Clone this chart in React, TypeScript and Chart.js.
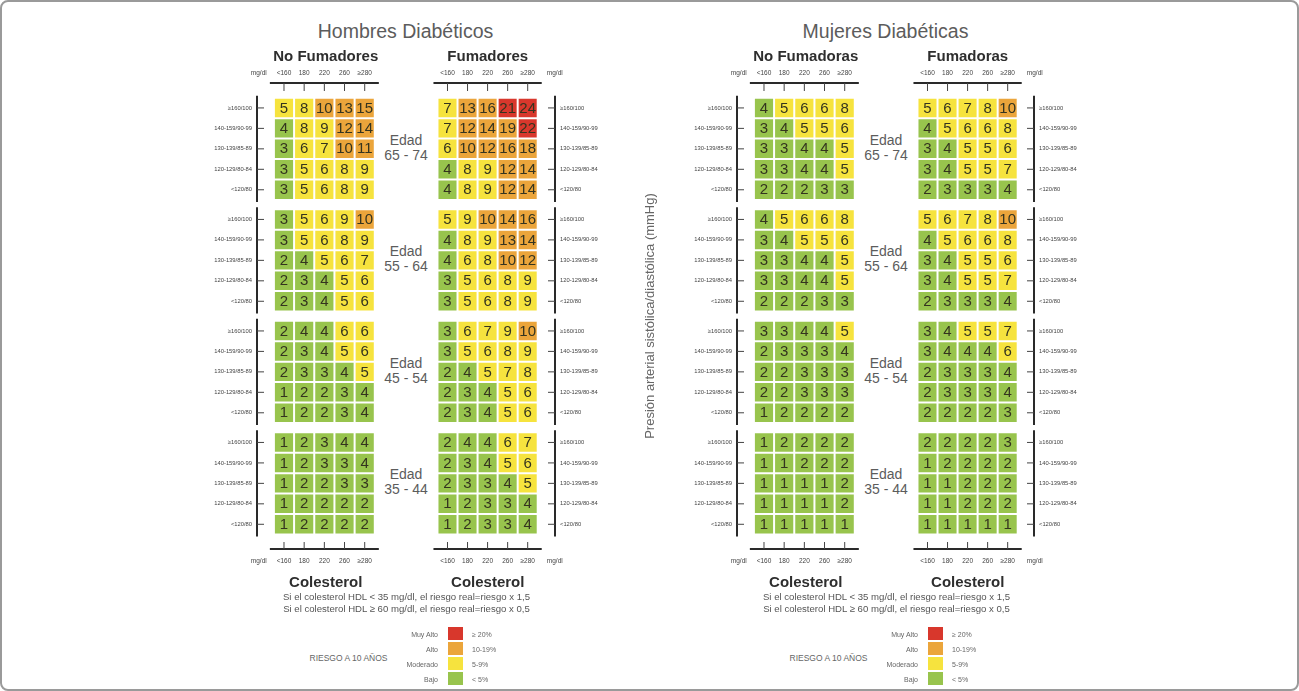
import React, { useEffect, useRef } from 'react';
import { Chart, registerables } from 'chart.js';

Chart.register(...registerables);

// ---------------- data ----------------
const cholesterolLabels = ['<160', '180', '220', '260', '≥280'];
const unitLabel = 'mg/dl';
const pressureLabels = ['≥160/100', '140-159/90-99', '130-139/85-89', '120-129/80-84', '<120/80'];
const ageGroups = ['65 - 74', '55 - 64', '45 - 54', '35 - 44'];
const panelTitles = ['Hombres Diabéticos', 'Mujeres Diabéticas'];
const groupTitles = [['No Fumadores', 'Fumadores'], ['No Fumadoras', 'Fumadoras']];
const ageTitle = 'Edad';
const cholesterolTitle = 'Colesterol';
const pressureTitle = 'Presión arterial sistólica/diastólica (mmHg)';
const hdlNotes = [
  'Si el colesterol HDL < 35 mg/dl, el riesgo real=riesgo x 1,5',
  'Si el colesterol HDL ≥ 60 mg/dl, el riesgo real=riesgo x 0,5',
];
const riskTitle = 'RIESGO A 10 AÑOS';
const riskLevels = ['Muy Alto', 'Alto', 'Moderado', 'Bajo'];
const riskRanges = ['≥ 20%', '10-19%', '5-9%', '< 5%'];
const riskMinimums = [20, 10, 5, 0];
const riskColors = ['#d8372c', '#eba53b', '#f6e33e', '#98c44d'];

// rows: 4 age blocks (65-74, 55-64, 45-54, 35-44) x 5 pressure rows
const hombresNoFumadores = [
  [5, 8, 10, 13, 15],
  [4, 8, 9, 12, 14],
  [3, 6, 7, 10, 11],
  [3, 5, 6, 8, 9],
  [3, 5, 6, 8, 9],
  [3, 5, 6, 9, 10],
  [3, 5, 6, 8, 9],
  [2, 4, 5, 6, 7],
  [2, 3, 4, 5, 6],
  [2, 3, 4, 5, 6],
  [2, 4, 4, 6, 6],
  [2, 3, 4, 5, 6],
  [2, 3, 3, 4, 5],
  [1, 2, 2, 3, 4],
  [1, 2, 2, 3, 4],
  [1, 2, 3, 4, 4],
  [1, 2, 3, 3, 4],
  [1, 2, 2, 3, 3],
  [1, 2, 2, 2, 2],
  [1, 2, 2, 2, 2],
];
const hombresFumadores = [
  [7, 13, 16, 21, 24],
  [7, 12, 14, 19, 22],
  [6, 10, 12, 16, 18],
  [4, 8, 9, 12, 14],
  [4, 8, 9, 12, 14],
  [5, 9, 10, 14, 16],
  [4, 8, 9, 13, 14],
  [4, 6, 8, 10, 12],
  [3, 5, 6, 8, 9],
  [3, 5, 6, 8, 9],
  [3, 6, 7, 9, 10],
  [3, 5, 6, 8, 9],
  [2, 4, 5, 7, 8],
  [2, 3, 4, 5, 6],
  [2, 3, 4, 5, 6],
  [2, 4, 4, 6, 7],
  [2, 3, 4, 5, 6],
  [2, 3, 3, 4, 5],
  [1, 2, 3, 3, 4],
  [1, 2, 3, 3, 4],
];
const mujeresNoFumadoras = [
  [4, 5, 6, 6, 8],
  [3, 4, 5, 5, 6],
  [3, 3, 4, 4, 5],
  [3, 3, 4, 4, 5],
  [2, 2, 2, 3, 3],
  [4, 5, 6, 6, 8],
  [3, 4, 5, 5, 6],
  [3, 3, 4, 4, 5],
  [3, 3, 4, 4, 5],
  [2, 2, 2, 3, 3],
  [3, 3, 4, 4, 5],
  [2, 3, 3, 3, 4],
  [2, 2, 3, 3, 3],
  [2, 2, 3, 3, 3],
  [1, 2, 2, 2, 2],
  [1, 2, 2, 2, 2],
  [1, 1, 2, 2, 2],
  [1, 1, 1, 1, 2],
  [1, 1, 1, 1, 2],
  [1, 1, 1, 1, 1],
];
const mujeresFumadoras = [
  [5, 6, 7, 8, 10],
  [4, 5, 6, 6, 8],
  [3, 4, 5, 5, 6],
  [3, 4, 5, 5, 7],
  [2, 3, 3, 3, 4],
  [5, 6, 7, 8, 10],
  [4, 5, 6, 6, 8],
  [3, 4, 5, 5, 6],
  [3, 4, 5, 5, 7],
  [2, 3, 3, 3, 4],
  [3, 4, 5, 5, 7],
  [3, 4, 4, 4, 6],
  [2, 3, 3, 3, 4],
  [2, 3, 3, 3, 4],
  [2, 2, 2, 2, 3],
  [2, 2, 2, 2, 3],
  [1, 2, 2, 2, 2],
  [1, 1, 2, 2, 2],
  [1, 1, 2, 2, 2],
  [1, 1, 1, 1, 1],
];

// ---------------- layout ----------------
const FONT = '"Liberation Sans", Arial, Helvetica, sans-serif';
const ROW_TOP = 97.7;
const ROW_H = 20.46;
const BLOCK_STEP = 5.45;
const AREA_TOP = 83;
const AREA_BOTTOM = 549;
const COL_W = 20.3;
const TOP_AXIS_H = 22;
const BOTTOM_AXIS_H = 26;
const PANEL_DX = [0, 480];

type Side = 'left' | 'right';
interface GridSpec {
  values: number[][];
  side: Side;
  gridLeft: number;
  axisX: number;
  axisW: number;
  title?: string;
}

const grids: GridSpec[] = [
  { values: hombresNoFumadores, side: 'left', gridLeft: 274, axisX: 257, axisW: 62 },
  { values: hombresFumadores, side: 'right', gridLeft: 436, axisX: 555, axisW: 62 },
  { values: mujeresNoFumadoras, side: 'left', gridLeft: 754, axisX: 737, axisW: 97, title: pressureTitle },
  { values: mujeresFumadoras, side: 'right', gridLeft: 916, axisX: 1034, axisW: 62 },
];

const nRows = pressureLabels.length;
const rowValue = (b: number, r: number) => b * BLOCK_STEP + r;
const rowPositions: number[] = [];
ageGroups.forEach((_, b) => pressureLabels.forEach((__, r) => rowPositions.push(rowValue(b, r))));

function riskColor(v: number) {
  const idx = riskMinimums.findIndex((m) => v >= m);
  return riskColors[idx < 0 ? riskColors.length - 1 : idx];
}

function geometry(g: GridSpec) {
  const gridRight = g.gridLeft + cholesterolLabels.length * COL_W;
  const areaLeft = g.side === 'left' ? g.axisX : g.gridLeft - 4;
  const areaRight = g.side === 'left' ? Math.round(gridRight + 4) : g.axisX;
  const canvasLeft = g.side === 'left' ? g.axisX - g.axisW : areaLeft;
  const canvasWidth = g.side === 'left' ? areaRight - canvasLeft : g.axisX + g.axisW - areaLeft;
  const canvasTop = AREA_TOP - TOP_AXIS_H;
  const canvasHeight = AREA_BOTTOM - AREA_TOP + TOP_AXIS_H + BOTTOM_AXIS_H;
  const xMin = (areaLeft - g.gridLeft) / COL_W - 0.5;
  const xMax = (areaRight - g.gridLeft) / COL_W - 0.5;
  const yMin = (AREA_TOP - ROW_TOP) / ROW_H - 0.5;
  const yMax = (AREA_BOTTOM - ROW_TOP) / ROW_H - 0.5;
  return { canvasLeft, canvasTop, canvasWidth, canvasHeight, xMin, xMax, yMin, yMax };
}

const cellLabels = {
  id: 'cellLabels',
  afterDatasetsDraw(chart: any) {
    const ctx = chart.ctx;
    ctx.save();
    ctx.font = `15px ${FONT}`;
    ctx.fillStyle = '#34341f';
    ctx.textAlign = 'center';
    ctx.textBaseline = 'middle';
    chart.data.datasets.forEach((ds: any, di: number) => {
      const meta = chart.getDatasetMeta(di);
      meta.data.forEach((el: any, i: number) => {
        const p = el.getProps(['x', 'y', 'base'], true);
        ctx.fillText(String(ds.risk[i]), p.x, (p.y + p.base) / 2 + 0.5);
      });
    });
    ctx.restore();
  },
};

const axisDecor = {
  id: 'axisDecor',
  afterDraw(chart: any, _args: any, opts: any) {
    const { ctx, chartArea } = chart;
    const xs = chart.scales.x;
    const ys = chart.scales.y;
    const side: Side = opts.side;
    const axisPx = side === 'left' ? chartArea.left : chartArea.right;
    const inward = side === 'left' ? 1 : -1;
    ctx.save();
    ctx.strokeStyle = '#2a2a2a';
    ctx.lineWidth = 2;
    const x0 = xs.getPixelForValue(-0.7);
    const x1 = xs.getPixelForValue(cholesterolLabels.length - 1 + 0.7);
    [chartArea.top, chartArea.bottom].forEach((y: number) => {
      ctx.beginPath();
      ctx.moveTo(x0, y);
      ctx.lineTo(x1, y);
      ctx.stroke();
    });
    ageGroups.forEach((_, b) => {
      const y0 = ys.getPixelForValue(rowValue(b, 0) - 0.6);
      const y1 = ys.getPixelForValue(rowValue(b, nRows - 1) + 0.6);
      ctx.beginPath();
      ctx.moveTo(axisPx, y0);
      ctx.lineTo(axisPx, y1);
      ctx.stroke();
    });
    ctx.lineWidth = 1;
    ctx.strokeStyle = '#444';
    cholesterolLabels.forEach((_, i) => {
      const px = xs.getPixelForValue(i);
      ctx.beginPath();
      ctx.moveTo(px, chartArea.top);
      ctx.lineTo(px, chartArea.top + 8);
      ctx.moveTo(px, chartArea.bottom);
      ctx.lineTo(px, chartArea.bottom - 7);
      ctx.stroke();
    });
    rowPositions.forEach((v) => {
      const py = ys.getPixelForValue(v);
      ctx.beginPath();
      ctx.moveTo(axisPx, py);
      ctx.lineTo(axisPx + inward * 7, py);
      ctx.stroke();
    });
    ctx.restore();
  },
};

function makeChart(canvas: HTMLCanvasElement, g: GridSpec) {
  const geo = geometry(g);
  const unitPos = g.side === 'left' ? -1.25 : cholesterolLabels.length + 0.35;
  const xTickValues = g.side === 'left'
    ? [unitPos, ...cholesterolLabels.map((_, i) => i)]
    : [...cholesterolLabels.map((_, i) => i), unitPos];
  const xTickText = g.side === 'left' ? [unitLabel, ...cholesterolLabels] : [...cholesterolLabels, unitLabel];

  const datasets = g.values.map((row, k) => ({
    data: row.map((_, i) => ({ x: i, y: [rowPositions[k] - 0.5, rowPositions[k] + 0.5] })),
    risk: row,
    backgroundColor: row.map(riskColor),
    borderColor: '#ffffff',
    borderWidth: 1,
    borderSkipped: false,
    inflateAmount: 0,
    grouped: false,
    barPercentage: 1,
    categoryPercentage: 1,
    xAxisID: 'x',
    yAxisID: 'y',
  }));

  const xAxis = (position: 'top' | 'bottom', padding: number) => ({
    type: 'linear',
    axis: 'x',
    position,
    offset: false,
    min: geo.xMin,
    max: geo.xMax,
    grid: { display: false, drawTicks: false, offset: false },
    border: { display: false },
    afterBuildTicks: (s: any) => {
      s.ticks = xTickValues.map((v) => ({ value: v }));
    },
    afterFit: (s: any) => {
      s.height = position === 'top' ? TOP_AXIS_H : BOTTOM_AXIS_H;
    },
    ticks: {
      autoSkip: false,
      maxRotation: 0,
      minRotation: 0,
      padding,
      color: '#444',
      font: { size: 6.5, family: FONT },
      callback: (_v: any, i: number) => xTickText[i],
    },
  });

  return new Chart(canvas, {
    type: 'bar',
    data: { datasets } as any,
    plugins: [cellLabels, axisDecor],
    options: {
      animation: false,
      responsive: false,
      maintainAspectRatio: false,
      events: [],
      layout: { padding: 0 },
      plugins: {
        legend: { display: false },
        tooltip: { enabled: false },
        axisDecor: { side: g.side },
      } as any,
      scales: {
        x: xAxis('top', 6),
        xb: xAxis('bottom', 8),
        y: {
          type: 'linear',
          position: g.side,
          reverse: true,
          offset: false,
          min: geo.yMin,
          max: geo.yMax,
          grid: { display: false, drawTicks: false },
          border: { display: false },
          afterBuildTicks: (s: any) => {
            s.ticks = rowPositions.map((v) => ({ value: v }));
          },
          afterFit: (s: any) => {
            s.width = g.axisW;
          },
          title: g.title
            ? { display: true, text: g.title, color: '#666', font: { size: 13, family: FONT }, padding: { top: 3, bottom: 0 } }
            : { display: false },
          ticks: {
            autoSkip: false,
            padding: 5,
            color: '#444',
            font: { size: 5.8, family: FONT },
            callback: (_v: any, i: number) => pressureLabels[i % nRows],
          },
        },
      } as any,
    },
  });
}

// ---------------- html text helpers ----------------
function Txt(props: {
  x: number; y: number; size: number; color?: string; weight?: number;
  align?: 'center' | 'left' | 'right'; children: React.ReactNode;
}) {
  const { x, y, size, color = '#555', weight = 400, align = 'center', children } = props;
  const tx = align === 'center' ? '-50%' : align === 'right' ? '-100%' : '0';
  return (
    <div
      style={{
        position: 'absolute', left: x, top: y, transform: `translate(${tx}, -50%)`,
        fontSize: size, fontWeight: weight, color, whiteSpace: 'nowrap', lineHeight: 1, fontFamily: FONT,
      }}
    >
      {children}
    </div>
  );
}

export default function App() {
  const refs = useRef<(HTMLCanvasElement | null)[]>([]);

  useEffect(() => {
    const charts = grids.map((g, i) => makeChart(refs.current[i] as HTMLCanvasElement, g));
    return () => charts.forEach((c) => c.destroy());
  }, []);

  const blockCenter = (b: number) => ROW_TOP + ROW_H * (rowValue(b, (nRows - 1) / 2) + 0.5);
  const gridCenter = (g: GridSpec) => g.gridLeft + (cholesterolLabels.length * COL_W) / 2;

  return (
    <div style={{ position: 'absolute', left: 0, top: 0, width: 1299, height: 691, background: '#fff', overflow: 'hidden', fontFamily: FONT }}>
      <div style={{ position: 'absolute', left: 0, top: 0, width: 1299, height: 691, boxSizing: 'border-box', border: '2px solid #9a9a9a', borderRadius: 8 }} />
      {grids.map((g, i) => {
        const geo = geometry(g);
        return (
          <canvas
            key={i}
            ref={(el) => { refs.current[i] = el; }}
            width={geo.canvasWidth}
            height={geo.canvasHeight}
            style={{ position: 'absolute', left: geo.canvasLeft, top: geo.canvasTop, width: geo.canvasWidth, height: geo.canvasHeight }}
          />
        );
      })}
      {panelTitles.map((t, p) => {
        const dx = PANEL_DX[p];
        const pg = [grids[p * 2], grids[p * 2 + 1]];
        return (
          <React.Fragment key={p}>
            <Txt x={405.5 + dx} y={32} size={19.5} color="#5c5c5c">{t}</Txt>
            {pg.map((g, k) => (
              <React.Fragment key={k}>
                <Txt x={gridCenter(g) + 1} y={55} size={15} weight={700} color="#2e2e2e">{groupTitles[p][k]}</Txt>
                <Txt x={gridCenter(g) + 1} y={581} size={15} weight={700} color="#2e2e2e">{cholesterolTitle}</Txt>
              </React.Fragment>
            ))}
            {ageGroups.map((a, b) => (
              <React.Fragment key={b}>
                <Txt x={406 + dx} y={blockCenter(b) - 9} size={14} color="#5c5c5c">{ageTitle}</Txt>
                <Txt x={406 + dx} y={blockCenter(b) + 6} size={14} color="#5c5c5c">{a}</Txt>
              </React.Fragment>
            ))}
            {hdlNotes.map((n, k) => (
              <Txt key={k} x={406.5 + dx} y={597 + k * 11.5} size={9.6} color="#555">{n}</Txt>
            ))}
            <Txt x={348.5 + dx} y={658} size={8.5} color="#666">{riskTitle}</Txt>
            {riskLevels.map((lv, k) => (
              <React.Fragment key={k}>
                <div style={{ position: 'absolute', left: 448 + dx, top: 627 + k * 15, width: 15, height: 13, background: riskColors[k] }} />
                <Txt x={438 + dx} y={633.5 + k * 15} size={7} color="#666" align="right">{lv}</Txt>
                <Txt x={472 + dx} y={633.5 + k * 15} size={7} color="#666" align="left">{riskRanges[k]}</Txt>
              </React.Fragment>
            ))}
          </React.Fragment>
        );
      })}
    </div>
  );
}
